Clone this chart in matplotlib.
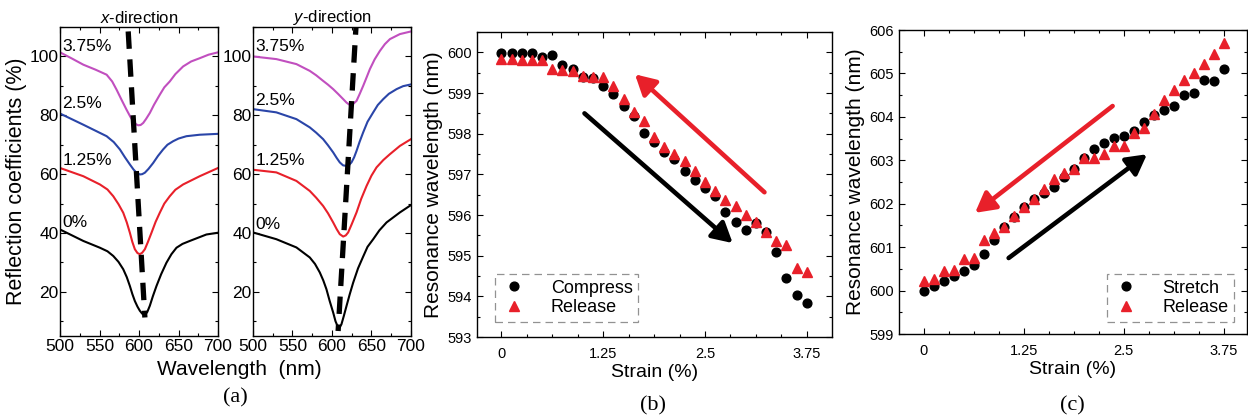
import numpy as np
import matplotlib
matplotlib.use("Agg")
import matplotlib.pyplot as plt

plt.rcParams['font.family'] = ['Liberation Sans', 'DejaVu Sans']
plt.rcParams['mathtext.fontset'] = 'custom'
plt.rcParams['mathtext.it'] = 'Liberation Sans:italic'
plt.rcParams['mathtext.rm'] = 'Liberation Sans'

# -------------------- Data: (a) spectra, x-direction --------------------

wl_x_375 = [500, 515, 529.5, 545, 559, 566, 571.6, 578, 584.2, 589, 592.6, 596, 598.9, 602, 605.3,
            609, 613.7, 619, 626.3, 632, 638.9, 646, 655.8, 666, 676.8, 688, 700]
r_x_375 = [101.4, 99.3, 97.2, 95.5, 93.8, 91.5, 88.7, 85.2, 81.9, 79.5, 78.0, 77.0, 76.6, 76.7, 77.4,
           78.8, 80.8, 83.6, 87.0, 89.5, 91.5, 94.0, 96.6, 98.3, 99.4, 100.6, 101.4]

wl_x_25 = [500, 529.5, 559, 568, 575.8, 582, 588.4, 593, 596.8, 601, 604, 607.4, 612, 617.9, 624,
           630.5, 636, 643.2, 650, 660, 676.8, 700]
r_x_25 = [80.6, 76.8, 72.9, 70.9, 68.4, 65.8, 63.3, 61.6, 60.5, 59.9, 60.0, 60.5, 61.8, 63.8, 66.2,
          68.4, 70.0, 71.2, 72.1, 72.9, 73.4, 73.7]

wl_x_125 = [500, 529.5, 550.5, 560, 567.4, 574, 580, 584.5, 588.4, 591.5, 594.7, 598, 601, 604, 607.4,
            611, 615.8, 621, 626.3, 632, 638.9, 646, 655.8, 676.8, 700]
r_x_125 = [62.1, 59.3, 56.5, 54.8, 52.5, 49.8, 46.9, 43.6, 40.1, 37.0, 34.5, 33.2, 32.8, 33.3, 34.5,
           36.8, 40.1, 43.8, 46.9, 50.0, 52.5, 54.7, 56.5, 59.3, 62.1]

wl_x_0 = [500, 529.5, 550.5, 560, 567.4, 574, 580, 584.5, 588.4, 591.5, 594.7, 598, 601, 604, 607.4,
          610.5, 613.7, 617.5, 622.1, 628, 634.7, 641, 647.4, 655, 664.2, 685.3, 700]
r_x_0 = [41.2, 37.3, 35.0, 33.8, 32.2, 30.2, 27.7, 25.0, 22.0, 19.3, 16.9, 15.0, 13.6, 12.6, 12.1,
         13.2, 15.3, 18.5, 22.0, 26.0, 29.9, 32.8, 35.0, 36.3, 37.3, 39.5, 40.1]

dash_x_wl = [586.3, 607.4]
dash_x_r = [108.5, 11.3]

# -------------------- Data: (a) spectra, y-direction --------------------

wl_y_375 = [500, 529.6, 555, 571.9, 580, 588.8, 595, 601.5, 608, 614.2, 618.5, 622.6, 626.5, 631.1,
            635, 639.5, 644, 648, 654, 660.7, 667, 673.4, 686, 700]
r_y_375 = [100, 99.1, 97.4, 95.1, 93.6, 91.7, 90.4, 88.9, 87.2, 85.5, 84.3, 83.5, 83.8, 84.9,
           87.2, 90, 93.0, 95.7, 99.0, 101.9, 104.2, 105.9, 107.6, 108.5]

wl_y_25 = [500, 529.6, 555, 571.9, 580, 588.8, 595, 601.5, 606, 609.9, 614, 618.4, 621.5, 624.7,
           628, 631.1, 635, 639.5, 645, 652.2, 658, 664.9, 672, 681.8, 690, 700]
r_y_25 = [82.1, 81, 78.7, 75.9, 74.1, 71.9, 69.8, 67.4, 65.5, 64, 63.0, 62.8, 63.1, 64,
          65.7, 67.9, 71.0, 74.2, 77.8, 81, 83.5, 85.5, 87.3, 88.9, 89.9, 90.5]

wl_y_125 = [500, 529.6, 555, 571.9, 580, 588.8, 595, 601.5, 606, 609.9, 614.2, 617.5, 620.5, 625,
            631.1, 637, 643.8, 650, 656.4, 665, 673.4, 686, 700]
r_y_125 = [61.5, 60.6, 57.7, 54.3, 52.0, 49.2, 46.7, 43.6, 41.3, 39.6, 38.8, 39.2, 40.2, 43.0,
           47, 51.6, 56, 59.5, 62.3, 64.8, 66.8, 69.6, 71.9]

wl_y_0 = [500, 529.6, 555, 571.9, 578.5, 584.6, 589, 593, 597, 601.5, 604.5, 607.8, 610, 612, 615,
          618.4, 622.5, 626.8, 633, 639.5, 645, 652.2, 660, 669.1, 686, 700]
r_y_0 = [40.2, 37.9, 35.1, 31.7, 29.5, 26.6, 23.9, 20.9, 17.0, 13, 10.0, 7.9, 8.0, 9, 11.8,
         15.2, 19.2, 23.1, 28.0, 32, 35.3, 37.9, 40.9, 43.6, 47, 49.5]

dash_y_wl = [631.1, 607.8]
dash_y_r = [113.3, 6.7]

strain_labels = ['3.75%', '2.5%', '1.25%', '0%']
label_x = [103.5, 84.0, 64.5, 43.5]
label_y = [103.5, 85.0, 64.5, 43.0]

# -------------------- Data: (b) compress / release --------------------

strain = np.arange(31) * 0.125

comp_b = [599.98, 599.98, 599.98, 599.98, 599.88, 599.93, 599.70, 599.59, 599.40, 599.37,
          599.18, 598.98, 598.68, 598.44, 598.02, 597.79, 597.56, 597.37, 597.09, 596.85,
          596.66, 596.48, 596.07, 595.84, 595.64, 595.80, 595.59, 595.10, 594.46, 594.03, 593.83]
rel_b = [599.84, 599.84, 599.82, 599.81, 599.81, 599.59, 599.57, 599.53, 599.43, 599.40,
         599.40, 599.18, 598.85, 598.53, 598.30, 597.93, 597.67, 597.50, 597.32, 597.08,
         596.80, 596.58, 596.37, 596.23, 596.01, 595.82, 595.58, 595.35, 595.27, 594.69, 594.59]

# -------------------- Data: (c) stretch / release --------------------

str_c = [600.00, 600.11, 600.21, 600.34, 600.46, 600.59, 600.84, 601.17, 601.47, 601.70,
         601.92, 602.10, 602.24, 602.39, 602.61, 602.81, 603.05, 603.25, 603.41, 603.52,
         603.57, 603.68, 603.89, 604.04, 604.16, 604.25, 604.50, 604.56, 604.85, 604.83, 605.10]
rel_c = [600.23, 600.26, 600.46, 600.47, 600.72, 600.74, 601.17, 601.32, 601.47, 601.72,
         601.92, 602.12, 602.35, 602.56, 602.70, 602.79, 603.05, 603.06, 603.14, 603.33,
         603.33, 603.62, 603.74, 604.06, 604.39, 604.63, 604.85, 605.02, 605.21, 605.45, 605.69]

# -------------------- Figure --------------------

RED = '#e8202a'
MAG = '#c14fbf'
BLUE = '#2a45a8'
ARROW = '-|>,head_length=0.6,head_width=0.33'
fig = plt.figure(figsize=(12.48, 4.17), dpi=100)


def style_axes(ax, size):
    ax.tick_params(which='both', direction='in', top=True, right=True, labelsize=size)
    ax.tick_params(which='major', length=4, width=0.8)
    ax.tick_params(which='minor', length=2.5, width=0.8)
    for s in ax.spines.values():
        s.set_linewidth(1.0)


def arrow(ax, head, tail, color):
    ax.annotate('', xy=head, xytext=tail,
                arrowprops=dict(arrowstyle=ARROW, lw=3.3, color=color,
                                mutation_scale=20, shrinkA=0, shrinkB=0))


# ---- (a) two spectra panels
ax1 = fig.add_axes([0.0481, 0.1942, 0.1266, 0.7410])
ax2 = fig.add_axes([0.2027, 0.1942, 0.1266, 0.7410])
panels = [
    (ax1, [(wl_x_375, r_x_375), (wl_x_25, r_x_25), (wl_x_125, r_x_125), (wl_x_0, r_x_0)],
     dash_x_wl, dash_x_r, label_x, r'$\it{x}$-direction'),
    (ax2, [(wl_y_375, r_y_375), (wl_y_25, r_y_25), (wl_y_125, r_y_125), (wl_y_0, r_y_0)],
     dash_y_wl, dash_y_r, label_y, r'$\it{y}$-direction'),
]
for ax, curves, dwl, dr, ly, title in panels:
    for (wl, r), c in zip(curves, [MAG, BLUE, RED, 'black']):
        ax.plot(wl, r, color=c, lw=1.5)
    ax.plot(dwl, dr, color='black', lw=3.8, linestyle=(0, (3.3, 2.0)), solid_capstyle='butt')
    for lab, yy in zip(strain_labels, ly):
        ax.text(503, yy, lab, fontsize=12.5, ha='left', va='center')
    ax.set_xlim(500, 700)
    ax.set_ylim(5, 110)
    ax.set_xticks([500, 550, 600, 650, 700])
    ax.set_xticks(np.arange(500, 701, 25), minor=True)
    ax.set_yticks([20, 40, 60, 80, 100])
    ax.set_yticks(np.arange(10, 111, 10), minor=True)
    ax.set_title(title, fontsize=12, pad=3)
    style_axes(ax, 12.5)
    ax.tick_params(axis='x', pad=2)
    ax.tick_params(axis='y', pad=1)
ax1.set_ylabel('Reflection coefficients (%)', fontsize=15.5, labelpad=2)
fig.text(0.192, 0.115, 'Wavelength  (nm)', fontsize=15, ha='center', va='center')
fig.text(0.189, 0.045, '(a)', fontsize=16, ha='center', va='center', family='Liberation Serif')

# ---- (b) compress / release
ax3 = fig.add_axes([0.3822, 0.1918, 0.2845, 0.7314])
ax3.plot(strain, comp_b, 'o', color='black', ms=6.3, label='Compress', zorder=3)
ax3.plot(strain, rel_b, '^', color=RED, ms=7.2, label='Release', zorder=4)
arrow(ax3, (1.64, 599.46), (3.23, 596.56), RED)
arrow(ax3, (2.84, 595.31), (1.02, 598.50), 'black')
ax3.set_xlim(-0.3, 4.06)
ax3.set_ylim(593, 600.5)
ax3.set_yticks(np.arange(593, 601, 1))
ax3.set_yticks(np.arange(593, 600.6, 0.5), minor=True)
ax3.set_ylabel('Resonance wavelength (nm)', fontsize=15, labelpad=3)
leg_b = ax3.legend(loc='lower left', bbox_to_anchor=(0.05, 0.05), borderaxespad=0, fontsize=13,
                   fancybox=False, handlelength=1.5, handletextpad=1.3, labelspacing=0.15,
                   borderpad=0.3)

# ---- (c) stretch / release
ax4 = fig.add_axes([0.7204, 0.1990, 0.2788, 0.7290])
ax4.plot(strain, str_c, 'o', color='black', ms=6.3, label='Stretch', zorder=3)
ax4.plot(strain, rel_c, '^', color=RED, ms=7.2, label='Release', zorder=4)
arrow(ax4, (0.64, 601.79), (2.36, 604.25), RED)
arrow(ax4, (2.79, 603.14), (1.06, 600.75), 'black')
ax4.set_xlim(-0.31, 4.04)
ax4.set_ylim(599, 606)
ax4.set_yticks(np.arange(599, 607, 1))
ax4.set_yticks(np.arange(599, 606.1, 0.5), minor=True)
ax4.set_ylabel('Resonance wavelength (nm)', fontsize=15, labelpad=3)
leg_c = ax4.legend(loc='lower right', bbox_to_anchor=(0.963, 0.04), borderaxespad=0, fontsize=13,
                   fancybox=False, handlelength=1.5, handletextpad=1.3, labelspacing=0.15,
                   borderpad=0.3)

for ax, leg in [(ax3, leg_b), (ax4, leg_c)]:
    ax.set_xticks([0, 1.25, 2.5, 3.75])
    ax.set_xticklabels(['0', '1.25', '2.5', '3.75'])
    ax.set_xticks(np.arange(0, 3.76, 0.3125), minor=True)
    ax.set_xlabel('Strain (%)', fontsize=14, labelpad=2)
    style_axes(ax, 10.5)
    ax.tick_params(axis='x', pad=7)
    frame = leg.get_frame()
    frame.set_edgecolor('#777777')
    frame.set_linestyle((0, (6, 4)))
    frame.set_linewidth(0.9)

fig.text(0.523, 0.027, '(b)', fontsize=16, ha='center', va='center', family='Liberation Serif')
fig.text(0.859, 0.027, '(c)', fontsize=16, ha='center', va='center', family='Liberation Serif')

fig.savefig('out.png', dpi=100)
